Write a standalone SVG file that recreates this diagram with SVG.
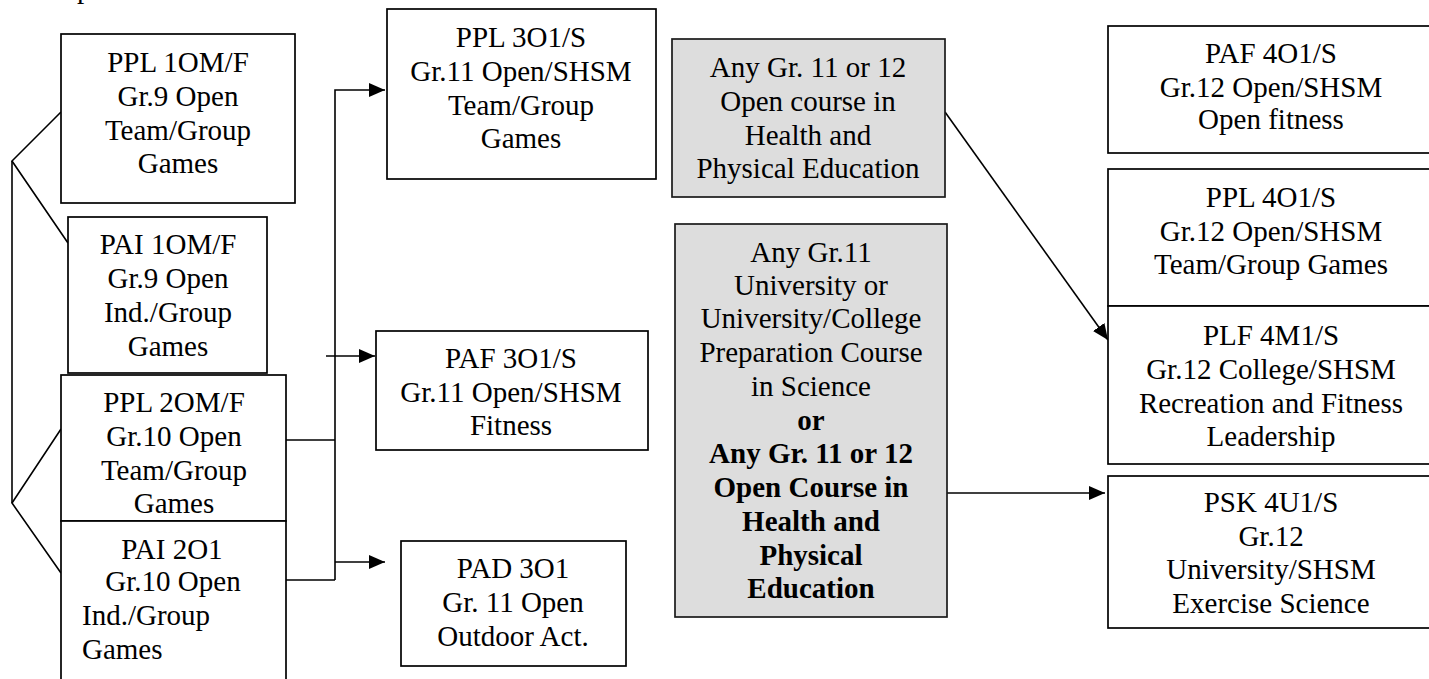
<svg xmlns="http://www.w3.org/2000/svg" width="1429" height="679" viewBox="0 0 1429 679">
  <style>
    .box { fill: #ffffff; stroke: #000000; stroke-width: 1.7; }
    .gray { fill: #dddddd; stroke: #1a1a1a; stroke-width: 1.7; }
    text { font-family: 'Liberation Serif', 'Times New Roman', serif; font-size: 29px; fill: #000000; text-anchor: middle; }
    text.left { text-anchor: start; }
    text.b { font-weight: bold; }
    .wire { fill: none; stroke: #000000; stroke-width: 1.6; }
  </style>
  <defs>
    <marker id="arrow" markerUnits="userSpaceOnUse" markerWidth="17" markerHeight="15" refX="16" refY="7" orient="auto">
      <path d="M0,0 L16,7 L0,14 z" fill="#000000"/>
    </marker>
  </defs>
  <rect width="1429" height="679" fill="#ffffff"/>

  <!-- tail of a line of text running above the page top -->
  <text class="left" x="77" y="-2">p</text>

  <!-- connectors -->
  <g id="connectors">
    <!-- left bracket joining grade 9 and grade 10 courses -->
    <path class="wire" d="M61,112 L12,161 L68,243"/>
    <path class="wire" d="M12,161 L12,503"/>
    <path class="wire" d="M61,429 L12,503 L61,573"/>
    <!-- grade 10 to grade 11 trunk -->
    <path class="wire" d="M286,440 L335,440"/>
    <path class="wire" d="M286,580 L335,580"/>
    <path class="wire" d="M335,580 L335,90 L385,90" marker-end="url(#arrow)"/>
    <path class="wire" d="M326,356 L375,356" marker-end="url(#arrow)"/>
    <path class="wire" d="M335,562 L385,562" marker-end="url(#arrow)"/>
    <!-- prerequisites to grade 12 -->
    <path class="wire" d="M945,112 L1108,340" marker-end="url(#arrow)"/>
    <path class="wire" d="M947,493 L1105,493" marker-end="url(#arrow)"/>
  </g>

  <!-- grade 9 / 10 -->
  <g id="ppl1om">
    <rect class="box" x="61" y="34" width="234" height="169"/>
    <text x="178" y="72">PPL 1OM/F</text>
    <text x="178" y="106">Gr.9 Open</text>
    <text x="178" y="139.5">Team/Group</text>
    <text x="178" y="173">Games</text>
  </g>
  <g id="pai1om">
    <rect class="box" x="68" y="217" width="199" height="156"/>
    <text x="168" y="254">PAI 1OM/F</text>
    <text x="168" y="288">Gr.9 Open</text>
    <text x="168" y="322">Ind./Group</text>
    <text x="168" y="356">Games</text>
  </g>
  <g id="ppl2om">
    <rect class="box" x="61" y="375" width="225" height="146"/>
    <text x="174" y="412">PPL 2OM/F</text>
    <text x="174" y="446">Gr.10 Open</text>
    <text x="174" y="480">Team/Group</text>
    <text x="174" y="513">Games</text>
  </g>
  <g id="pai2o1">
    <rect class="box" x="61" y="521" width="225" height="170"/>
    <text x="172" y="559">PAI 2O1</text>
    <text x="173" y="591">Gr.10 Open</text>
    <text class="left" x="82" y="625">Ind./Group</text>
    <text class="left" x="82" y="659">Games</text>
  </g>

  <!-- grade 11 -->
  <g id="ppl3o1">
    <rect class="box" x="387" y="9" width="269" height="170"/>
    <text x="521" y="47">PPL 3O1/S</text>
    <text x="521" y="81">Gr.11 Open/SHSM</text>
    <text x="521" y="115">Team/Group</text>
    <text x="521" y="148">Games</text>
  </g>
  <g id="paf3o1">
    <rect class="box" x="376" y="331" width="272" height="119"/>
    <text x="511" y="368">PAF 3O1/S</text>
    <text x="511" y="402">Gr.11 Open/SHSM</text>
    <text x="511" y="435">Fitness</text>
  </g>
  <g id="pad3o1">
    <rect class="box" x="401" y="541" width="225" height="125"/>
    <text x="513" y="578">PAD 3O1</text>
    <text x="513" y="612">Gr. 11 Open</text>
    <text x="513" y="646">Outdoor Act.</text>
  </g>

  <!-- prerequisite blocks -->
  <g id="any-open">
    <rect class="gray" x="672" y="39" width="273" height="158"/>
    <text x="808" y="77">Any Gr. 11 or 12</text>
    <text x="808" y="111">Open course in</text>
    <text x="808" y="145">Health and</text>
    <text x="808" y="178">Physical Education</text>
  </g>
  <g id="any-science">
    <rect class="gray" x="675" y="224" width="272" height="393"/>
    <text x="811" y="262">Any Gr.11</text>
    <text x="811" y="295">University or</text>
    <text x="811" y="328">University/College</text>
    <text x="811" y="362">Preparation Course</text>
    <text x="811" y="396">in Science</text>
    <text class="b" x="811" y="430">or</text>
    <text class="b" x="811" y="463">Any Gr. 11 or 12</text>
    <text class="b" x="811" y="497">Open Course in</text>
    <text class="b" x="811" y="531">Health and</text>
    <text class="b" x="811" y="565">Physical</text>
    <text class="b" x="811" y="598">Education</text>
  </g>

  <!-- grade 12 -->
  <g id="paf4o1">
    <rect class="box" x="1108" y="26" width="340" height="127"/>
    <text x="1271" y="63">PAF 4O1/S</text>
    <text x="1271" y="97">Gr.12 Open/SHSM</text>
    <text x="1271" y="129">Open fitness</text>
  </g>
  <g id="ppl4o1">
    <rect class="box" x="1108" y="169" width="340" height="137"/>
    <text x="1271" y="207">PPL 4O1/S</text>
    <text x="1271" y="241">Gr.12 Open/SHSM</text>
    <text x="1271" y="274">Team/Group Games</text>
  </g>
  <g id="plf4m1">
    <rect class="box" x="1108" y="306" width="340" height="158"/>
    <text x="1271" y="345">PLF 4M1/S</text>
    <text x="1271" y="379">Gr.12 College/SHSM</text>
    <text x="1271" y="413">Recreation and Fitness</text>
    <text x="1271" y="446">Leadership</text>
  </g>
  <g id="psk4u1">
    <rect class="box" x="1108" y="476" width="340" height="152"/>
    <text x="1271" y="512">PSK 4U1/S</text>
    <text x="1271" y="546">Gr.12</text>
    <text x="1271" y="579">University/SHSM</text>
    <text x="1271" y="613">Exercise Science</text>
  </g>
</svg>
